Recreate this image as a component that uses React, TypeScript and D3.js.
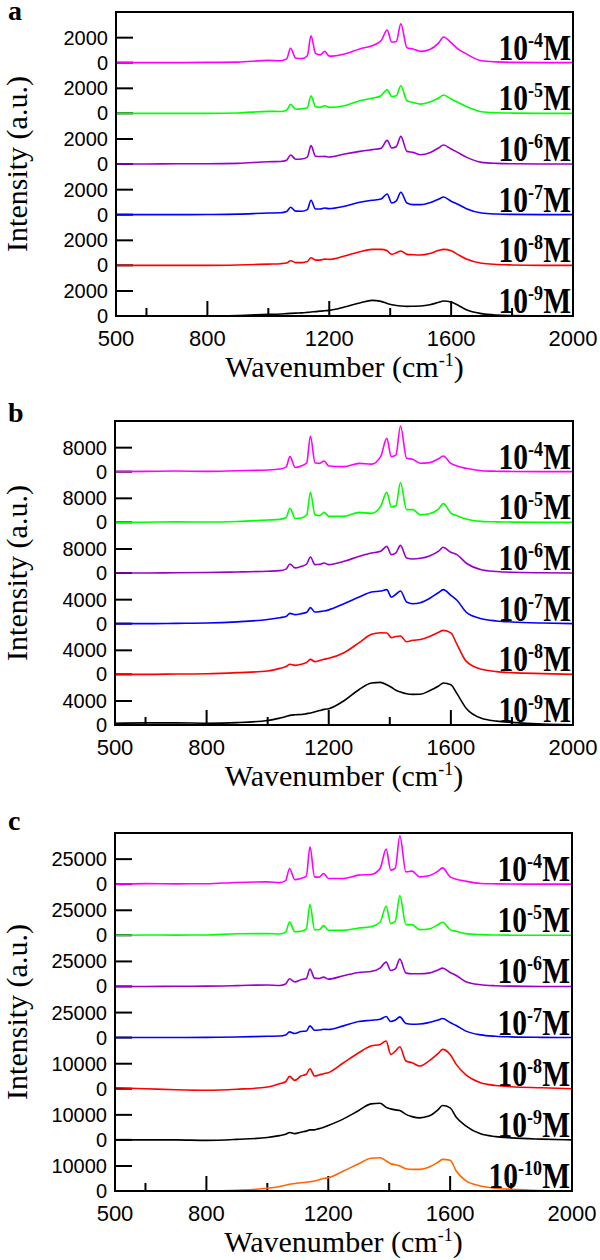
import React from "react";
import * as d3 from "d3";

// Wavenumber grid (cm-1) shared by all spectra
const WN = [500, 600, 700, 800, 900, 1000, 1040, 1060, 1073, 1090, 1110, 1128, 1140, 1155, 1170, 1185, 1200, 1250, 1300, 1340, 1370, 1390, 1405, 1420, 1435, 1455, 1475, 1500, 1530, 1560, 1575, 1600, 1620, 1650, 1700, 1750, 1800, 1900, 2000];

// Panel a
const A_M4 = [0, 0, 0, 20, 40, 180, 150, 300, 1150, 350, 320, 550, 2150, 750, 620, 900, 520, 700, 1100, 1350, 1750, 2600, 1650, 1700, 3100, 1200, 1100, 900, 1050, 1600, 2050, 1600, 1150, 700, 150, 60, 20, 0, 0];
const A_M5 = [0, 0, 0, 0, 30, 160, 150, 250, 720, 330, 370, 450, 1410, 520, 480, 610, 480, 610, 1010, 1200, 1410, 1890, 1350, 1400, 2210, 1010, 870, 740, 900, 1250, 1470, 1150, 900, 550, 130, 50, 20, 0, 0];
const A_M6 = [0, 0, 20, 20, 50, 180, 200, 300, 720, 380, 400, 550, 1470, 620, 600, 610, 560, 800, 1010, 1150, 1250, 1890, 1280, 1400, 2210, 1010, 930, 740, 900, 1300, 1520, 1200, 950, 550, 130, 50, 20, 0, 0];
const A_M7 = [0, 0, 0, 10, 40, 130, 150, 250, 590, 280, 270, 400, 1150, 450, 450, 530, 480, 670, 990, 1150, 1250, 1650, 930, 1100, 1790, 930, 800, 800, 950, 1250, 1410, 1070, 850, 480, 130, 50, 20, 0, 0];
const A_M8 = [0, 0, 0, 0, 30, 100, 130, 180, 370, 220, 220, 300, 610, 420, 420, 500, 480, 750, 1090, 1280, 1280, 1170, 880, 1000, 1150, 880, 850, 830, 950, 1200, 1280, 1170, 900, 500, 160, 70, 30, 0, 0];
const A_M9 = [0, 0, 0, 0, 40, 130, 160, 190, 210, 230, 250, 290, 320, 350, 390, 420, 450, 720, 1040, 1250, 1170, 1000, 900, 840, 800, 770, 780, 800, 900, 1100, 1200, 1120, 900, 500, 190, 70, 30, 0, 0];

// Panel b
const B_M4 = [0, 100, 200, 100, 330, 560, 890, 1500, 5000, 1400, 1900, 3000, 11900, 3000, 2770, 3560, 1900, 1670, 2770, 2500, 5000, 11100, 5000, 5500, 15200, 4440, 4110, 2800, 3000, 4300, 5220, 2770, 1900, 1110, 330, 150, 80, 0, 0];
const B_M5 = [0, 50, 150, 100, 300, 770, 1000, 1500, 4670, 1300, 1440, 2500, 10000, 2500, 2220, 3330, 2000, 2000, 3330, 3000, 5330, 10000, 5110, 5500, 13300, 4220, 4220, 2550, 2890, 4500, 6220, 3110, 2200, 1100, 330, 150, 80, 0, 0];
const B_M6 = [0, 0, 100, 150, 330, 600, 780, 1300, 3000, 1700, 2220, 3000, 5330, 2780, 2900, 3330, 2780, 3890, 5560, 6670, 7220, 8890, 6110, 6700, 9220, 5000, 4670, 4900, 5700, 7300, 8560, 6890, 6110, 3330, 1110, 500, 230, 80, 0];
const B_M7 = [0, 0, 50, 100, 300, 700, 1000, 1200, 1720, 1500, 1670, 1900, 2670, 1940, 2000, 2110, 2300, 3330, 4440, 5280, 5440, 5670, 4440, 4900, 5440, 3610, 3330, 3500, 4200, 5200, 5670, 4720, 3900, 1940, 830, 450, 280, 100, 0];
const B_M8 = [0, 0, 50, 100, 280, 560, 1000, 1300, 1670, 1500, 1670, 2000, 2500, 2110, 2300, 2500, 2670, 3610, 5280, 6670, 6940, 6900, 6110, 6300, 6390, 5440, 5670, 5800, 6300, 7000, 7330, 6900, 5000, 2200, 830, 450, 280, 120, 0];
const B_M9 = [300, 350, 350, 300, 400, 750, 1150, 1400, 1600, 1700, 1750, 1900, 2000, 2200, 2400, 2600, 2720, 4050, 5920, 6990, 7100, 6700, 6300, 5800, 5500, 5200, 5100, 5120, 5700, 6500, 6990, 6720, 5230, 2800, 1120, 650, 430, 150, 50];

// Panel c
const C_M4 = [0, 500, 300, 400, 1700, 2300, 1500, 3500, 15700, 4500, 5700, 8000, 37300, 7300, 7000, 10700, 5700, 5700, 9000, 9700, 15700, 35000, 14000, 16000, 48300, 12300, 13000, 7300, 8300, 13000, 16300, 7300, 5000, 3000, 700, 300, 100, 0, 0];
const C_M5 = [0, 300, 200, 300, 1500, 1700, 1300, 3000, 13300, 3500, 4000, 6500, 30700, 5700, 5500, 9700, 5000, 5000, 7300, 8500, 13000, 29000, 11700, 14000, 39700, 10700, 10700, 5700, 6300, 10500, 13000, 5700, 4000, 1700, 700, 300, 100, 0, 0];
const C_M6 = [0, 0, 200, 300, 800, 1500, 1000, 2500, 7700, 4500, 6700, 8000, 17300, 8300, 8000, 9300, 7300, 10700, 14000, 15000, 18300, 24300, 16000, 17500, 27300, 13300, 12700, 12700, 13300, 16500, 18300, 14000, 11000, 5000, 1700, 700, 300, 0, 0];
const C_M7 = [0, 0, 0, 200, 500, 1300, 1500, 2500, 5700, 4000, 6000, 6500, 11700, 7300, 7500, 8300, 8000, 11700, 16000, 17300, 18300, 21000, 16000, 17500, 20700, 14000, 13300, 13500, 15000, 17500, 19000, 15000, 12000, 6700, 2700, 1300, 700, 200, 0];
const C_M8 = [400, 0, -400, -600, -200, 670, 2000, 2800, 4930, 3330, 5070, 5800, 8000, 5070, 5500, 6000, 6400, 10400, 14400, 17070, 17730, 19070, 13730, 15000, 16800, 11070, 10400, 9070, 11070, 14000, 15730, 13730, 9730, 5730, 2400, 1300, 800, 400, 0];
const C_M9 = [0, 0, 0, -200, 200, 930, 1700, 2200, 2930, 2500, 3070, 3500, 4000, 4000, 4500, 5000, 5730, 8400, 11730, 14400, 14670, 13000, 12400, 12000, 11730, 10200, 9300, 8800, 9500, 12000, 13730, 12800, 9070, 5730, 2400, 1300, 800, 300, 0];
const C_M10 = [0, 0, 0, 0, 280, 1070, 1800, 2300, 2700, 3000, 3330, 3500, 3700, 4000, 4500, 5000, 5330, 8000, 10930, 13070, 13330, 12000, 10930, 10500, 10000, 8900, 8670, 8670, 9500, 11500, 12670, 12270, 8000, 4270, 2000, 1100, 670, 200, 0];

// Axis ticks
const X_LABEL_TICKS = [500, 800, 1200, 1600, 2000];
const X_MAJOR_TICKS = [800, 1200, 1600];
const X_MINOR_TICKS = [600, 1000, 1400, 1800];

const COLORS = ["#ff00ff", "#00ff00", "#9900cc", "#0000ff", "#ff0000", "#000000", "#ff6600"];
const EXPONENTS = ["-4", "-5", "-6", "-7", "-8", "-9", "-10"];

const A_SERIES = [A_M4, A_M5, A_M6, A_M7, A_M8, A_M9];
const A_TICKS = [2000, 2000, 2000, 2000, 2000, 2000];
const B_SERIES = [B_M4, B_M5, B_M6, B_M7, B_M8, B_M9];
const B_TICKS = [8000, 8000, 8000, 4000, 4000, 4000];
const C_SERIES = [C_M4, C_M5, C_M6, C_M7, C_M8, C_M9, C_M10];
const C_TICKS = [25000, 25000, 25000, 25000, 10000, 10000, 10000];

const SERIF = "'Liberation Serif', 'Times New Roman', Times, serif";
const SANS = "'Liberation Sans', Arial, Helvetica, sans-serif";

type PanelProps = {
  letter: string;
  left: number;
  right: number;
  top: number;
  bottom: number;
  tickPx: number;
  series: number[][];
  ticks: number[];
  letterY: number;
};

function Panel({ letter, left, right, top, bottom, tickPx, series, ticks, letterY }: PanelProps) {
  const x = d3.scaleLinear().domain([500, 2000]).range([left, right]);
  const n = series.length;
  const step = (bottom - top) / n;

  const traces = series.map((vals, i) => {
    const base = top + (i + 1) * step;
    const y = d3.scaleLinear().domain([0, ticks[i]]).range([base, base - tickPx]);
    const line = d3
      .line<number>()
      .x((_, k) => x(WN[k]))
      .y((v) => y(v))
      .curve(d3.curveMonotoneX);
    return { base, y, path: line(vals) || "", tick: ticks[i], color: COLORS[i], exp: EXPONENTS[i] };
  });

  return (
    <g>
      <text x={8} y={letterY} fontFamily={SERIF} fontWeight="bold" fontSize={28}>
        {letter}
      </text>
      {/* y tick marks and labels */}
      {traces.map((t, i) => (
        <g key={"yt" + i}>
          {[0, t.tick].map((v) => (
            <g key={v}>
              <line x1={left} x2={left + 17} y1={t.y(v)} y2={t.y(v)} stroke="#000" strokeWidth={2} />
              <text
                x={left - 8}
                y={t.y(v)}
                textAnchor="end"
                dominantBaseline="central"
                fontFamily={SANS}
                fontSize={20}
              >
                {v}
              </text>
            </g>
          ))}
        </g>
      ))}
      {/* x ticks */}
      {X_MAJOR_TICKS.map((v) => (
        <line key={"M" + v} x1={x(v)} x2={x(v)} y1={bottom} y2={bottom - 15} stroke="#000" strokeWidth={2} />
      ))}
      {X_MINOR_TICKS.map((v) => (
        <line key={"m" + v} x1={x(v)} x2={x(v)} y1={bottom} y2={bottom - 8} stroke="#000" strokeWidth={2} />
      ))}
      {X_LABEL_TICKS.map((v) => (
        <text key={"xl" + v} x={x(v)} y={bottom + 30} textAnchor="middle" fontFamily={SANS} fontSize={22}>
          {v}
        </text>
      ))}
      {/* traces */}
      {traces.map((t, i) => (
        <path key={"p" + i} d={t.path} fill="none" stroke={t.color} strokeWidth={1.6} strokeLinejoin="round" />
      ))}
      {/* frame */}
      <rect x={left} y={top} width={right - left} height={bottom - top} fill="none" stroke="#000" strokeWidth={2} />
      {/* concentration labels */}
      {traces.map((t, i) => (
        <text
          key={"lab" + i}
          transform={`translate(${right - 2},${t.base - 3}) scale(0.82,1)`}
          textAnchor="end"
          fontFamily={SERIF}
          fontWeight="bold"
          fontSize={36}
        >
          <tspan>10</tspan>
          <tspan dy={-13} fontSize={22}>
            {t.exp}
          </tspan>
          <tspan dy={13}>M</tspan>
        </text>
      ))}
      {/* axis titles */}
      <text
        x={(left + right) / 2}
        y={bottom + 61}
        textAnchor="middle"
        fontFamily={SERIF}
        fontSize={30}
      >
        Wavenumber (cm
        <tspan dy={-11} fontSize={18}>
          -1
        </tspan>
        <tspan dy={11}>)</tspan>
      </text>
      <text
        transform={`translate(27,${(top + bottom) / 2}) rotate(-90)`}
        textAnchor="middle"
        fontFamily={SERIF}
        fontSize={30}
      >
        Intensity (a.u.)
      </text>
    </g>
  );
}

export default function App() {
  return (
    <svg
      width={600}
      height={1260}
      viewBox="0 0 600 1260"
      style={{ position: "absolute", left: 0, top: 0, background: "#fff" }}
    >
      <rect x={0} y={0} width={600} height={1260} fill="#fff" />
      <Panel letter="a" left={116} right={573} top={12} bottom={316} tickPx={25} series={A_SERIES} ticks={A_TICKS} letterY={20} />
      <Panel letter="b" left={115} right={573} top={421} bottom={725} tickPx={24} series={B_SERIES} ticks={B_TICKS} letterY={422} />
      <Panel letter="c" left={115} right={572} top={833} bottom={1191} tickPx={25} series={C_SERIES} ticks={C_TICKS} letterY={830} />
    </svg>
  );
}
